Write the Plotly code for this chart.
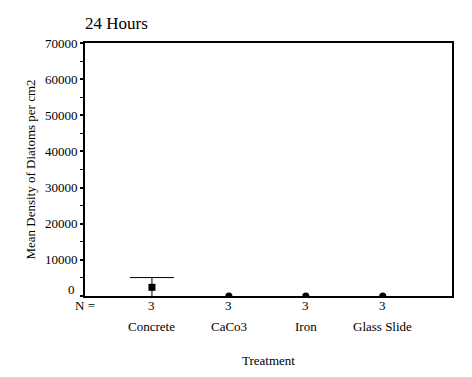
import plotly.graph_objects as go

categories = ["Concrete", "CaCo3", "Iron", "Glass Slide"]
means = [2400, 0, 0, 0]
errors = [2700, None, None, None]
n_values = ["3", "3", "3", "3"]
y_ticks = [0, 10000, 20000, 30000, 40000, 50000, 60000, 70000]

FONT = "'Liberation Serif'"
W, H = 472, 377
L, R, T, B = 85, 20, 43, 81

fig = go.Figure()
fig.add_trace(go.Scatter(
    x=categories[:1], y=means[:1], mode="markers",
    marker=dict(symbol="square", size=7, color="black"),
    error_y=dict(type="data", array=errors[:1], visible=True, color="black",
                 thickness=1, width=22),
    cliponaxis=True, showlegend=False,
))
fig.add_trace(go.Scatter(
    x=categories[1:], y=means[1:], mode="markers",
    marker=dict(symbol="circle", size=7, color="black"),
    cliponaxis=True, showlegend=False,
))

txt = dict(family=FONT, size=13, color="black")
ann = []
for c, n in zip(categories, n_values):
    ann.append(dict(x=c, y=0, xref="x", yref="paper", text=n, showarrow=False,
                    yanchor="middle", yshift=-9, font=txt))
    ann.append(dict(x=c, y=0, xref="x", yref="paper", text=c, showarrow=False,
                    yanchor="middle", yshift=-30, font=txt))
ann.append(dict(x=0, y=0, xref="paper", yref="paper", text="N =", showarrow=False,
                xanchor="center", yanchor="middle", yshift=-9, font=txt))
ann.append(dict(x=0, y=0, xref="paper", yref="y", text=str(y_ticks[0]), showarrow=False,
                xanchor="right", yanchor="middle", xshift=-8, yshift=7, font=txt))
ann.append(dict(x=0.5, y=0, xref="paper", yref="paper", text="Treatment", showarrow=False,
                yanchor="middle", yshift=-64, font=txt))

fig.update_layout(
    width=W, height=H,
    margin=dict(l=L, r=R, t=T, b=B),
    paper_bgcolor="white", plot_bgcolor="white",
    font=txt,
    title=dict(text="24 Hours", x=0, xref="paper", xanchor="left",
               y=1 - 23 / H, yref="container", yanchor="middle",
               font=dict(family=FONT, size=17, color="black")),
    annotations=ann,
    xaxis=dict(type="category", range=[-0.87, 3.9], showline=True, linecolor="black",
               linewidth=2, mirror=True, showgrid=False, ticks="", showticklabels=False,
               zeroline=False),
    yaxis=dict(range=[0, 70000], tickvals=y_ticks,
               ticktext=[""] + [str(v) for v in y_ticks[1:]],
               showline=True, linecolor="black", linewidth=2, mirror=True,
               showgrid=False, zeroline=False, ticks="outside", ticklen=3, tickwidth=2,
               tickcolor="black",
               minor=dict(dtick=5000, ticks="outside", ticklen=3, tickwidth=1, tickcolor="black"),
               title=dict(text="Mean Density of Diatoms per cm2", font=txt, standoff=6),
               tickfont=txt),
)

fig.write_html("out.html")
